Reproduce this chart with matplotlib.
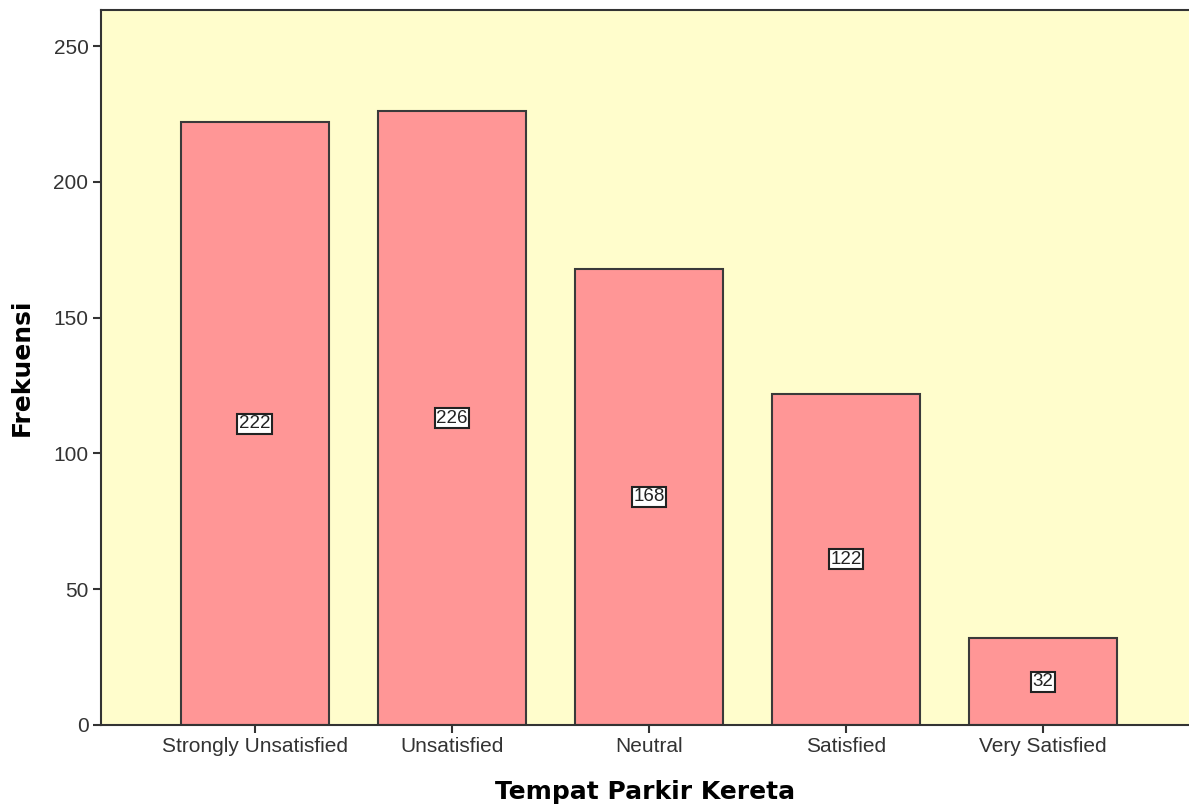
import matplotlib.pyplot as plt

categories = ['Strongly Unsatisfied', 'Unsatisfied', 'Neutral', 'Satisfied', 'Very Satisfied']
counts = [222, 226, 168, 122, 32]
yticks = [0, 50, 100, 150, 200, 250]

fig = plt.figure(figsize=(11.89, 8.06), dpi=100)
ax = fig.add_axes([101 / 1189, 81 / 806, 1088 / 1189, 715 / 806])
ax.set_facecolor('#FFFDCC')

x = range(len(categories))
ax.bar(x, counts, width=0.75, color='#FF9696', edgecolor='#3a3a3a', linewidth=1.5, zorder=2)

for xi, c in zip(x, counts):
    ax.text(xi, c / 2, str(c), ha='center', va='center', fontsize=13.5, color='#222222',
            family='Liberation Sans',
            bbox=dict(boxstyle='square,pad=0.08', facecolor='white', edgecolor='#222222', linewidth=1.5),
            zorder=3)

ax.set_xlim(-0.78, 4.74)
ax.set_ylim(0, 263.3)
ax.set_xticks(list(x))
ax.set_xticklabels(categories, fontsize=15, color='#333333', family='Liberation Sans')
ax.set_yticks(yticks)
ax.set_yticklabels([str(v) for v in yticks], fontsize=15, color='#333333', family='Liberation Sans')
ax.tick_params(axis='both', direction='out', length=6, width=1.5, color='#333333', pad=3)

for s in ['left', 'bottom', 'top']:
    ax.spines[s].set_linewidth(1.5)
    ax.spines[s].set_color('#333333')
ax.spines['right'].set_visible(False)

ax.set_xlabel('Tempat Parkir Kereta', fontsize=18, fontweight='bold', labelpad=17)
ax.set_ylabel('Frekuensi', fontsize=18, fontweight='bold', labelpad=14)

fig.savefig('out.png', dpi=100)
